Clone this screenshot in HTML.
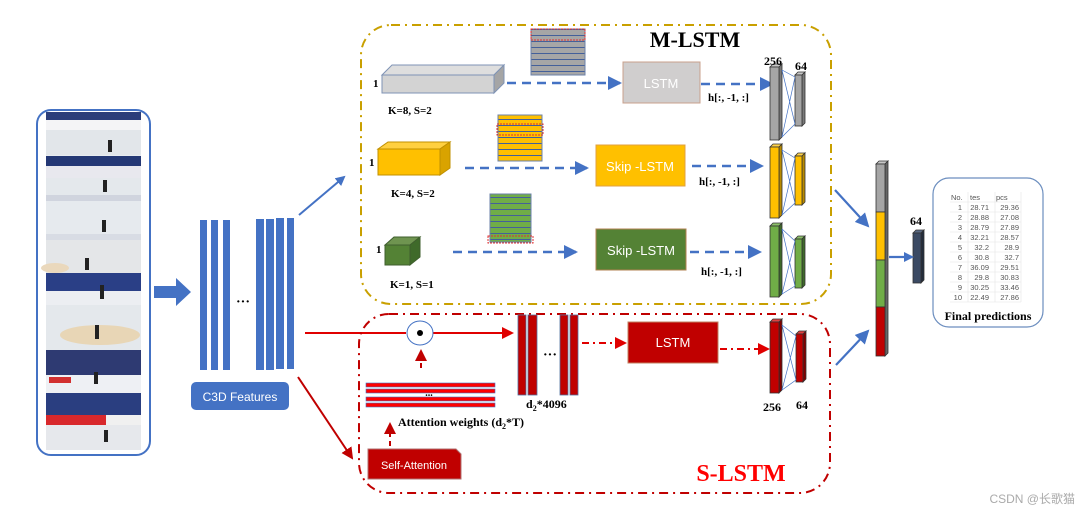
<!DOCTYPE html>
<html><head><meta charset="utf-8"><style>
html,body{margin:0;padding:0;background:#fff;}
svg{display:block;}
.s{font-family:"Liberation Serif",serif;font-weight:bold;}
.a{font-family:"Liberation Sans",sans-serif;}
</style></head><body>
<svg width="1091" height="515" viewBox="0 0 1091 515" xmlns="http://www.w3.org/2000/svg">
<defs>
<marker id="bh" markerWidth="10" markerHeight="10" refX="8" refY="5" orient="auto" markerUnits="userSpaceOnUse"><path d="M0,0 L10,5 L0,10 z" fill="#4472c4"/></marker>
<marker id="bhl" markerWidth="14" markerHeight="14" refX="12" refY="7" orient="auto" markerUnits="userSpaceOnUse"><path d="M0,0 L14,7 L0,14 z" fill="#4472c4"/></marker>
<marker id="rh" markerWidth="12" markerHeight="12" refX="10" refY="6" orient="auto" markerUnits="userSpaceOnUse"><path d="M0,0 L12,6 L0,12 z" fill="#e00000"/></marker>
<marker id="rh2" markerWidth="12" markerHeight="12" refX="10" refY="6" orient="auto" markerUnits="userSpaceOnUse"><path d="M0,0 L12,6 L0,12 z" fill="#c00000"/></marker>
<pattern id="gp" width="54" height="6" patternUnits="userSpaceOnUse"><rect width="54" height="6" fill="#a6a6a6"/><rect y="5" width="54" height="1.2" fill="#44609a"/></pattern>
<pattern id="yp" width="44" height="6" patternUnits="userSpaceOnUse"><rect width="44" height="6" fill="#ffc000"/><rect y="5" width="44" height="1.2" fill="#44609a"/></pattern>
<pattern id="grp" width="42" height="6" patternUnits="userSpaceOnUse"><rect width="42" height="6" fill="#70ad47"/><rect y="5" width="42" height="1.2" fill="#44609a"/></pattern>
</defs>

<!-- video frames -->
<g>
<rect x="46" y="112" width="95" height="338" fill="#e8ecf0"/>
<g id="fr">
</g>
<rect x="46" y="112" width="95" height="8" fill="#2b3d7a"/><rect x="46" y="120" width="95" height="10" fill="#f4f4f6"/><rect x="46" y="130" width="95" height="25" fill="#e2e6ea"/>
<rect x="46" y="156" width="95" height="10" fill="#243875"/><rect x="46" y="166" width="95" height="12" fill="#e8e8ee"/><rect x="46" y="178" width="95" height="17" fill="#e4e8ec"/>
<rect x="46" y="195" width="95" height="6" fill="#d0d4de"/><rect x="46" y="201" width="95" height="33" fill="#e6eaee"/>
<rect x="46" y="234" width="95" height="6" fill="#d8dce4"/><rect x="46" y="240" width="95" height="33" fill="#e4e6e8"/><ellipse cx="55" cy="268" rx="14" ry="5" fill="#ead8bc"/>
<rect x="46" y="273" width="95" height="18" fill="#2a3f86"/><rect x="46" y="291" width="95" height="14" fill="#eceef2"/>
<rect x="46" y="305" width="95" height="45" fill="#e4e8ec"/><ellipse cx="100" cy="335" rx="40" ry="10" fill="#e8d6b6"/>
<rect x="46" y="350" width="95" height="25" fill="#2e3a72"/><rect x="46" y="375" width="95" height="18" fill="#eef0f4"/><rect x="49" y="377" width="22" height="6" fill="#d23030"/>
<rect x="46" y="393" width="95" height="22" fill="#2a3e80"/><rect x="46" y="415" width="60" height="10" fill="#d8282c"/><rect x="106" y="415" width="35" height="10" fill="#f0f0f0"/><rect x="46" y="425" width="95" height="25" fill="#e6e8ec"/>
<g fill="#222"><rect x="108" y="140" width="4" height="12"/><rect x="103" y="180" width="4" height="12"/><rect x="102" y="220" width="4" height="12"/><rect x="85" y="258" width="4" height="12"/><rect x="100" y="285" width="4" height="14"/><rect x="95" y="325" width="4" height="14"/><rect x="94" y="372" width="4" height="12"/><rect x="104" y="430" width="4" height="12"/></g>
</g>
<rect x="37" y="110" width="113" height="345" rx="14" fill="none" stroke="#4472c4" stroke-width="2"/>

<!-- big arrow -->
<path d="M154,286 L176,286 L176,278 L191,292 L176,306 L176,298 L154,298 z" fill="#4472c4"/>

<!-- C3D bars -->
<g fill="#4472c4">
<rect x="200" y="220" width="7" height="150"/><rect x="211" y="220" width="7" height="150"/><rect x="223" y="220" width="7" height="150"/>
<rect x="256" y="219" width="8" height="151"/><rect x="266" y="219" width="8" height="151"/><rect x="276" y="218" width="8" height="151"/><rect x="287" y="218" width="7" height="151"/>
</g>
<text x="243" y="306" text-anchor="middle" font-size="14" class="s">···</text>
<rect x="191" y="382" width="98" height="28" rx="5" fill="#4472c4"/>
<text x="240" y="401" text-anchor="middle" fill="#fff" font-size="12" class="a">C3D Features</text>

<!-- connectors from features -->
<line x1="299" y1="215" x2="344" y2="177" stroke="#4472c4" stroke-width="2" marker-end="url(#bh)"/>
<polyline points="305,333 406,333" fill="none" stroke="#e00000" stroke-width="2"/>
<line x1="433" y1="333" x2="512" y2="333" stroke="#e00000" stroke-width="2" marker-end="url(#rh)"/>
<line x1="298" y1="377" x2="352" y2="458" stroke="#c00000" stroke-width="2" marker-end="url(#rh2)"/>

<!-- M-LSTM box -->
<rect x="361" y="25" width="470" height="279" rx="30" fill="none" stroke="#c9a000" stroke-width="2" stroke-dasharray="9,5,2,5"/>
<text x="695" y="47" text-anchor="middle" font-size="22" class="s">M-LSTM</text>

<!-- gray row -->
<path d="M382,75 L392,65 L504,65 L494,75 z" fill="#dedede" stroke="#7f93b5"/>
<path d="M494,75 L504,65 L504,83 L494,93 z" fill="#a5a5a5" stroke="#7f93b5"/>
<rect x="382" y="75" width="112" height="18" fill="#d3d3d3" stroke="#7f93b5"/>
<text x="373" y="87" font-size="11" class="s">1</text>
<text x="388" y="114" font-size="11" class="s">K=8, S=2</text>
<rect x="531" y="29" width="54" height="46" fill="url(#gp)" stroke="#6b80a8"/>
<rect x="531" y="29" width="54" height="11" fill="none" stroke="#e03030" stroke-dasharray="2,1"/>
<line x1="507" y1="83" x2="620" y2="83" stroke="#4472c4" stroke-width="2.5" stroke-dasharray="9,6" marker-end="url(#bhl)"/>
<rect x="623" y="62" width="77" height="41" fill="#d0cece" stroke="#c8a08c"/>
<text x="661" y="88" text-anchor="middle" fill="#fff" font-size="13" class="a">LSTM</text>
<line x1="701" y1="84" x2="772" y2="84" stroke="#4472c4" stroke-width="2.5" stroke-dasharray="9,6" marker-end="url(#bhl)"/>
<text x="708" y="101" font-size="11" class="s">h[:, -1, :]</text>

<!-- yellow row -->
<path d="M378,149 L388,142 L450,142 L440,149 z" fill="#ffd040" stroke="#c09000"/>
<path d="M440,149 L450,142 L450,168 L440,175 z" fill="#d9a300" stroke="#c09000"/>
<rect x="378" y="149" width="62" height="26" fill="#ffc000" stroke="#c09000"/>
<text x="369" y="166" font-size="11" class="s">1</text>
<text x="391" y="197" font-size="11" class="s">K=4, S=2</text>
<rect x="498" y="115" width="44" height="46" fill="url(#yp)" stroke="#6b80a8"/>
<rect x="497" y="124" width="46" height="11" fill="none" stroke="#e03030" stroke-dasharray="2,1"/>
<line x1="465" y1="168" x2="587" y2="168" stroke="#4472c4" stroke-width="2.5" stroke-dasharray="9,6" marker-end="url(#bhl)"/>
<rect x="596" y="145" width="89" height="41" fill="#ffc000" stroke="#e0a040"/>
<text x="640" y="171" text-anchor="middle" fill="#fff" font-size="13" class="a">Skip -LSTM</text>
<line x1="692" y1="166" x2="762" y2="166" stroke="#4472c4" stroke-width="2.5" stroke-dasharray="9,6" marker-end="url(#bhl)"/>
<text x="699" y="185" font-size="11" class="s">h[:, -1, :]</text>

<!-- green row -->
<path d="M385,245 L394,237 L420,237 L410,245 z" fill="#6f9450" stroke="#3f5f2e"/>
<path d="M410,245 L420,237 L420,257 L410,265 z" fill="#3f6a2a" stroke="#3f5f2e"/>
<rect x="385" y="245" width="25" height="20" fill="#548235" stroke="#3f5f2e"/>
<text x="376" y="253" font-size="11" class="s">1</text>
<text x="390" y="288" font-size="11" class="s">K=1, S=1</text>
<rect x="490" y="194" width="41" height="48" fill="url(#grp)" stroke="#6b80a8"/>
<rect x="488" y="236" width="45" height="7" fill="none" stroke="#e03030" stroke-dasharray="2,1"/>
<line x1="453" y1="252" x2="576" y2="252" stroke="#4472c4" stroke-width="2.5" stroke-dasharray="9,6" marker-end="url(#bhl)"/>
<rect x="596" y="229" width="90" height="41" fill="#548235" stroke="#b08050"/>
<text x="641" y="255" text-anchor="middle" fill="#fff" font-size="13" class="a">Skip -LSTM</text>
<line x1="690" y1="252" x2="760" y2="252" stroke="#4472c4" stroke-width="2.5" stroke-dasharray="9,6" marker-end="url(#bhl)"/>
<text x="701" y="275" font-size="11" class="s">h[:, -1, :]</text>

<!-- FC columns -->
<g stroke="#333" stroke-width="0.8">
<g>
<path d="M770,67 L773,64 L782,64 L779,67z" fill="#c8c8c8"/><path d="M779,67 L782,64 L782,137 L779,140z" fill="#7a7a7a"/><rect x="770" y="67" width="9" height="73" fill="#a5a5a5"/>
<path d="M795,75 L798,72 L805,72 L802,75z" fill="#c8c8c8"/><path d="M802,75 L805,72 L805,123 L802,126z" fill="#7a7a7a"/><rect x="795" y="75" width="7" height="51" fill="#a5a5a5"/>
</g>
<g>
<path d="M770,147 L773,144 L782,144 L779,147z" fill="#ffd24a"/><path d="M779,147 L782,144 L782,215 L779,218z" fill="#b88a00"/><rect x="770" y="147" width="9" height="71" fill="#ffc000"/>
<path d="M795,156 L798,153 L805,153 L802,156z" fill="#ffd24a"/><path d="M802,156 L805,153 L805,202 L802,205z" fill="#b88a00"/><rect x="795" y="156" width="7" height="49" fill="#ffc000"/>
</g>
<g>
<path d="M770,226 L773,223 L782,223 L779,226z" fill="#8cc068"/><path d="M779,226 L782,223 L782,294 L779,297z" fill="#3f6a2a"/><rect x="770" y="226" width="9" height="71" fill="#70ad47"/>
<path d="M795,239 L798,236 L805,236 L802,239z" fill="#8cc068"/><path d="M802,239 L805,236 L805,285 L802,288z" fill="#3f6a2a"/><rect x="795" y="239" width="7" height="49" fill="#70ad47"/>
</g>
<g>
<path d="M770,322 L773,319 L782,319 L779,322z" fill="#e04040"/><path d="M779,322 L782,319 L782,390 L779,393z" fill="#800000"/><rect x="770" y="322" width="9" height="71" fill="#c00000"/>
<path d="M796,334 L799,331 L806,331 L803,334z" fill="#e04040"/><path d="M803,334 L806,331 L806,379 L803,382z" fill="#800000"/><rect x="796" y="334" width="7" height="48" fill="#c00000"/>
</g>
</g>
<g stroke="#4472c4" stroke-width="0.7" fill="none">
<path d="M782,70 L795,77 M782,70 L795,124 M782,137 L795,77 M782,137 L795,124"/>
<path d="M782,150 L795,158 M782,150 L795,203 M782,215 L795,158 M782,215 L795,203"/>
<path d="M782,229 L795,241 M782,229 L795,286 M782,294 L795,241 M782,294 L795,286"/>
<path d="M782,325 L796,336 M782,325 L796,380 M782,390 L796,336 M782,390 L796,380"/>
</g>
<text x="773" y="65" text-anchor="middle" font-size="12" class="s">256</text>
<text x="801" y="70" text-anchor="middle" font-size="12" class="s">64</text>
<text x="772" y="411" text-anchor="middle" font-size="12" class="s">256</text>
<text x="802" y="409" text-anchor="middle" font-size="12" class="s">64</text>

<!-- S-LSTM box -->
<rect x="359" y="314" width="471" height="179" rx="30" fill="none" stroke="#c00000" stroke-width="2" stroke-dasharray="9,5,2,5"/>
<text x="741" y="481" text-anchor="middle" font-size="24" class="s" fill="#ff0000">S-LSTM</text>
<ellipse cx="420" cy="333" rx="13" ry="12" fill="#fff" stroke="#4472c4"/>
<circle cx="420" cy="333" r="3" fill="#000"/>
<line x1="421" y1="368" x2="421" y2="351" stroke="#c00000" stroke-width="2" stroke-dasharray="5,4" marker-end="url(#rh2)"/>
<g fill="#ff0000" stroke="#4472c4" stroke-width="0.6">
<rect x="366" y="383" width="129" height="4"/><rect x="366" y="389" width="129" height="4"/><rect x="366" y="397" width="129" height="4"/><rect x="366" y="403" width="129" height="4"/>
</g>
<text x="429" y="396" text-anchor="middle" font-size="10" class="s">...</text>
<text x="398" y="426" font-size="12" class="s">Attention weights (d<tspan font-size="8" dy="3">2</tspan><tspan dy="-3">*T)</tspan></text>
<line x1="390" y1="446" x2="390" y2="424" stroke="#c00000" stroke-width="2" stroke-dasharray="5,4" marker-end="url(#rh2)"/>
<path d="M368,449 L456,449 L461,454 L461,479 L368,479 z" fill="#c00000" stroke="#b07070"/>
<text x="414" y="469" text-anchor="middle" fill="#fff" font-size="11" class="a">Self-Attention</text>
<g fill="#c00000" stroke="#5070a0" stroke-width="0.8">
<rect x="518" y="315" width="8" height="80"/><rect x="528" y="315" width="9" height="80"/><rect x="560" y="315" width="8" height="80"/><rect x="570" y="315" width="8" height="80"/>
</g>
<text x="550" y="359" text-anchor="middle" font-size="14" class="s">···</text>
<text x="526" y="408" font-size="12" class="s">d<tspan font-size="8" dy="3">2</tspan><tspan dy="-3">*4096</tspan></text>
<line x1="582" y1="343" x2="625" y2="343" stroke="#e00000" stroke-width="2" stroke-dasharray="7,4,2,4" marker-end="url(#rh)"/>
<rect x="628" y="322" width="90" height="41" fill="#c00000" stroke="#c08060"/>
<text x="673" y="347" text-anchor="middle" fill="#fff" font-size="13" class="a">LSTM</text>
<line x1="720" y1="349" x2="768" y2="349" stroke="#e00000" stroke-width="2" stroke-dasharray="7,4,2,4" marker-end="url(#rh)"/>

<!-- concat -->
<line x1="835" y1="190" x2="868" y2="226" stroke="#4472c4" stroke-width="2.2" marker-end="url(#bhl)"/>
<line x1="836" y1="365" x2="868" y2="331" stroke="#4472c4" stroke-width="2.2" marker-end="url(#bhl)"/>
<g stroke="#333" stroke-width="0.8">
<path d="M876,164 L879,161 L888,161 L885,164z" fill="#c8c8c8"/>
<path d="M885,164 L888,161 L888,353 L885,356z" fill="#666"/>
<rect x="876" y="164" width="9" height="48" fill="#a5a5a5"/>
<rect x="876" y="212" width="9" height="48" fill="#ffc000"/>
<rect x="876" y="260" width="9" height="47" fill="#70ad47"/>
<rect x="876" y="307" width="9" height="49" fill="#c00000"/>
<path d="M913,233 L916,230 L924,230 L921,233z" fill="#5a6a85"/>
<path d="M921,233 L924,230 L924,280 L921,283z" fill="#222c3c"/>
<rect x="913" y="233" width="8" height="50" fill="#3b4a63"/>
</g>
<line x1="889" y1="257" x2="912" y2="257" stroke="#4472c4" stroke-width="2.2" marker-end="url(#bh)"/>
<text x="916" y="225" text-anchor="middle" font-size="12" class="s">64</text>

<!-- final predictions -->
<rect x="933" y="178" width="110" height="149" rx="16" fill="#fff" stroke="#6c8ebf" stroke-width="1.2"/>
<g font-size="7.5" fill="#555" class="a">
<text x="951" y="200">No.</text><text x="970" y="200">tes</text><text x="996" y="200">pcs</text>
<g text-anchor="end">
<text x="962" y="210">1</text><text x="989" y="210">28.71</text><text x="1019" y="210">29.36</text>
<text x="962" y="220">2</text><text x="989" y="220">28.88</text><text x="1019" y="220">27.08</text>
<text x="962" y="230">3</text><text x="989" y="230">28.79</text><text x="1019" y="230">27.89</text>
<text x="962" y="240">4</text><text x="989" y="240">32.21</text><text x="1019" y="240">28.57</text>
<text x="962" y="250">5</text><text x="989" y="250">32.2</text><text x="1019" y="250">28.9</text>
<text x="962" y="260">6</text><text x="989" y="260">30.8</text><text x="1019" y="260">32.7</text>
<text x="962" y="270">7</text><text x="989" y="270">36.09</text><text x="1019" y="270">29.51</text>
<text x="962" y="280">8</text><text x="989" y="280">29.8</text><text x="1019" y="280">30.83</text>
<text x="962" y="290">9</text><text x="989" y="290">30.25</text><text x="1019" y="290">33.46</text>
<text x="962" y="300">10</text><text x="989" y="300">22.49</text><text x="1019" y="300">27.86</text>
</g>
</g>
<g stroke="#e4e4e4" stroke-width="0.6">
<line x1="950" y1="202" x2="1021" y2="202"/><line x1="950" y1="212" x2="1021" y2="212"/><line x1="950" y1="222" x2="1021" y2="222"/><line x1="950" y1="232" x2="1021" y2="232"/><line x1="950" y1="242" x2="1021" y2="242"/><line x1="950" y1="252" x2="1021" y2="252"/><line x1="950" y1="262" x2="1021" y2="262"/><line x1="950" y1="272" x2="1021" y2="272"/><line x1="950" y1="282" x2="1021" y2="282"/><line x1="950" y1="292" x2="1021" y2="292"/><line x1="950" y1="302" x2="1021" y2="302"/>
<line x1="968" y1="192" x2="968" y2="302"/><line x1="995" y1="192" x2="995" y2="302"/><line x1="1021" y1="192" x2="1021" y2="302"/>
</g>
<text x="988" y="320" text-anchor="middle" font-size="12" class="s">Final predictions</text>

<text x="1075" y="503" text-anchor="end" font-size="12" fill="#aaa" font-family="Liberation Sans, Noto Sans CJK SC, sans-serif">CSDN @长歌猫</text>
</svg>
</body></html>
